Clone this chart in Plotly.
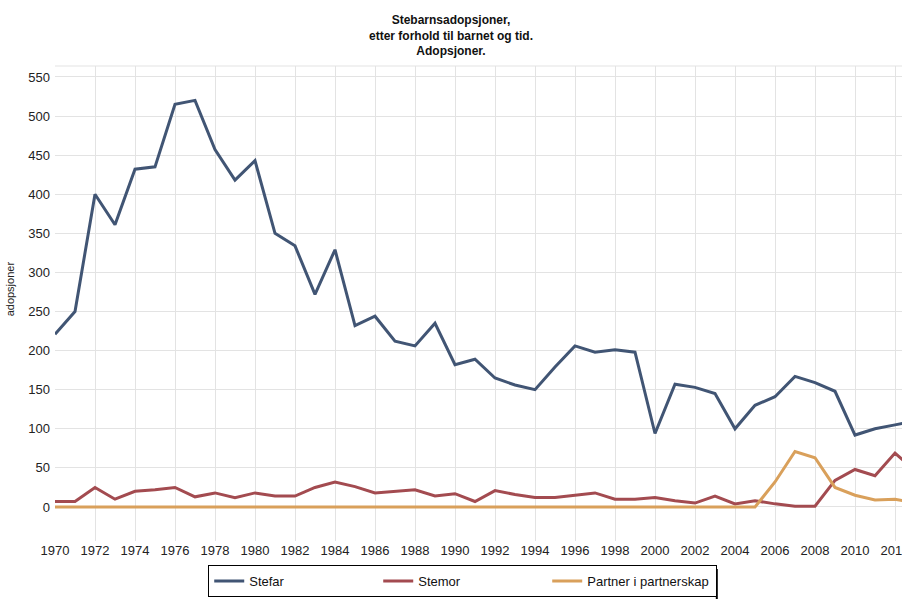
import plotly.graph_objects as go

years = list(range(1970, 2014))

stefar = [221, 250, 400, 361, 432, 435, 515, 520, 457, 418, 443, 350, 334, 272,
          329, 232, 244, 212, 206, 235, 182, 189, 165, 156, 150, 179, 206, 198,
          201, 198, 94, 157, 153, 145, 100, 130, 141, 167, 159, 148, 92, 100, 105, 110]

stemor = [7, 7, 25, 10, 20, 22, 25, 13, 18, 12, 18, 14, 14, 25,
          32, 26, 18, 20, 22, 14, 17, 7, 21, 16, 12, 12, 15, 18,
          10, 10, 12, 8, 5, 14, 4, 8, 4, 1, 1, 34, 48, 40, 69, 46]

partner = [0] * 36 + [32, 71, 63, 25, 15, 9, 10, 5]

series_names = ["Stefar", "Stemor", "Partner i partnerskap"]
series_colors = ["#415574", "#a34b50", "#d9a05b"]

title_lines = ["Stebarnsadopsjoner,", "etter forhold til barnet og tid.", "Adopsjoner."]
y_title = "adopsjoner"

fig = go.Figure()
for name, vals, col in zip(series_names, [stefar, stemor, partner], series_colors):
    fig.add_trace(go.Scatter(x=years, y=vals, name=name, mode="lines",
                             line=dict(color=col, width=3)))

font_family = "Liberation Sans, Arial, sans-serif"

# plot area: left 55px, top 66px, width 847px, height 475px
PW, PH, PB = 847.0, 475.0, 541.0

def px_x(px):
    return (px - 55) / PW

def px_y(py):
    return (PB - py) / PH

fig.update_layout(
    width=902, height=599,
    margin=dict(l=55, r=0, t=66, b=58, autoexpand=False),
    paper_bgcolor="white", plot_bgcolor="white",
    font=dict(family=font_family, size=13, color="#222222"),
    title=dict(text="<b>" + "<br>".join(title_lines) + "</b>", x=0.5, xref="container",
               xanchor="center", y=1 - 24 / 599, yref="container", yanchor="top",
               font=dict(family=font_family, size=12, color="#111111")),
    showlegend=True,
    legend=dict(orientation="h", xref="container", yref="container",
                x=0.513, xanchor="center", y=2 / 599, yanchor="bottom",
                bordercolor="#000000", borderwidth=1,
                font=dict(size=13, color="#111111"),
                entrywidth=124, entrywidthmode="pixels",
                itemwidth=30, tracegroupgap=0),
    xaxis=dict(range=[1970, 2012.35], dtick=2, tick0=1970, showgrid=True,
               gridcolor="#e3e3e3", gridwidth=1, zeroline=False,
               ticks="", tickfont=dict(size=13), automargin=False,
               showline=False, ticklabeloverflow="allow"),
    yaxis=dict(range=[-43.5, 564], dtick=50, tick0=0, showgrid=True,
               gridcolor="#e3e3e3", gridwidth=1, zeroline=False,
               ticks="", tickfont=dict(size=13), automargin=False,
               ticklabelstandoff=4),
    annotations=[dict(text=y_title, xref="paper", yref="paper",
                      x=-0.053, y=0.53, textangle=-90, showarrow=False,
                      xanchor="center", yanchor="middle",
                      font=dict(size=11, color="#222222"))],
    shapes=[
        dict(type="line", xref="paper", yref="paper", x0=0, x1=1, y0=1, y1=1,
             line=dict(color="#e3e3e3", width=1)),
        # legend drop shadow (right edge)
        dict(type="line", xref="paper", yref="paper",
             x0=px_x(716.8), x1=px_x(716.8), y0=px_y(569), y1=px_y(599),
             line=dict(color="#000000", width=2)),
    ],
)

fig.write_html("out.html", config={"displayModeBar": False},
               post_script="document.body.style.margin='0';document.body.style.overflow='hidden';")
